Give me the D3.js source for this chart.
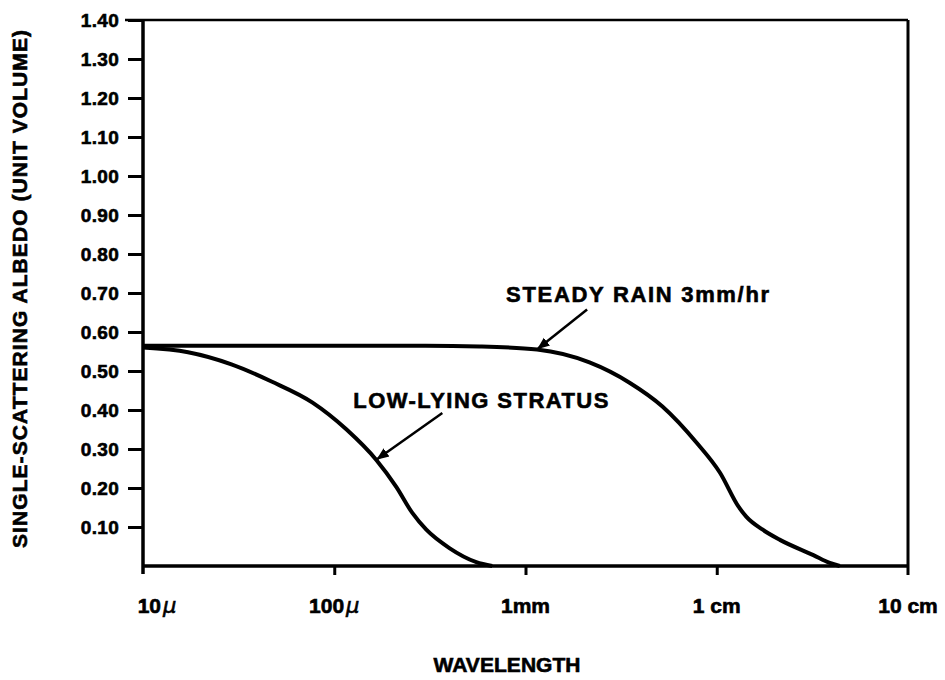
<!DOCTYPE html>
<meta charset="utf-8">
<style>

body {
  margin: 0;
  background: #fff;
}

text {
  font-family: "Liberation Sans", Arial, sans-serif;
  font-weight: bold;
  fill: #000;
  stroke: #000;
  stroke-width: 0.6px;
}

.curve {
  fill: none;
  stroke: #000;
  stroke-width: 4;
  stroke-linejoin: round;
}

</style>
<svg></svg>
<script src="https://cdn.jsdelivr.net/npm/d3@7"></script>
<script>

var width = 945,
    height = 680;

// wavelength in microns, albedo
var rainWave = [10, 100, 300, 575, 1150, 2160, 3500, 5200, 7850, 10400, 13000, 14300, 17400, 21400, 32000, 39000, 44000];
var rainAlbedo = [0.565, 0.565, 0.565, 0.563, 0.555, 0.522, 0.470, 0.409, 0.316, 0.239, 0.152, 0.126, 0.093, 0.067, 0.028, 0.008, 0.0];

var stratusWave = [10, 17.2, 29, 47, 77, 116, 166, 211, 256, 303, 400, 553, 670];
var stratusAlbedo = [0.560, 0.548, 0.517, 0.473, 0.419, 0.350, 0.272, 0.203, 0.136, 0.093, 0.046, 0.010, 0.0];

var xTicks = [10, 100, 1000, 10000, 100000];
var xTickLabels = [["10", "\u03bc"], ["100", "\u03bc"], ["1mm", ""], ["1 cm", ""], ["10 cm", ""]];
var yTicks = [0.1, 0.2, 0.3, 0.4, 0.5, 0.6, 0.7, 0.8, 0.9, 1.0, 1.1, 1.2, 1.3, 1.4];

var notes = [
  {text: "STEADY RAIN 3mm/hr", wave: 1150, albedo: 0.555},
  {text: "LOW-LYING STRATUS", wave: 166, albedo: 0.272}
];

var margin = {left: 143, right: 37, top: 20, bottom: 114};

var x = d3.scaleLog()
    .domain([10, 100000])
    .range([margin.left, width - margin.right]);

var y = d3.scaleLinear()
    .domain([0, 1.4])
    .range([height - margin.bottom, margin.top]);

var svg = d3.select("svg")
    .attr("width", width)
    .attr("height", height);

svg.append("defs").append("marker")
    .attr("id", "head")
    .attr("viewBox", "0 0 10 10")
    .attr("refX", 9)
    .attr("refY", 5)
    .attr("markerWidth", 5)
    .attr("markerHeight", 5)
    .attr("orient", "auto")
  .append("path")
    .attr("d", "M0,1L10,5L0,9Z")
    .attr("fill", "#000");

var x0 = x.range()[0], x1 = x.range()[1],
    y0 = y.range()[0], y1 = y.range()[1];

// frame
svg.append("line").attr("x1", 125).attr("x2", x1).attr("y1", y1).attr("y2", y1)
    .attr("stroke", "#000").attr("stroke-width", 2.5);
svg.append("line").attr("x1", x1).attr("x2", x1).attr("y1", y1).attr("y2", y0 + 9)
    .attr("stroke", "#000").attr("stroke-width", 3);
svg.append("line").attr("x1", x0).attr("x2", x0).attr("y1", y1).attr("y2", y0 + 8)
    .attr("stroke", "#000").attr("stroke-width", 3.5);
svg.append("line").attr("x1", x0).attr("x2", x1).attr("y1", y0).attr("y2", y0)
    .attr("stroke", "#000").attr("stroke-width", 3.5);

// y axis
var yAxis = svg.append("g")
    .attr("transform", "translate(" + x0 + ",0)")
    .call(d3.axisLeft(y)
      .tickValues(yTicks)
      .tickSize(15)
      .tickPadding(9)
      .tickFormat(d3.format(".2f")));

yAxis.select(".domain").remove();
yAxis.selectAll(".tick line").attr("stroke", "#000").attr("stroke-width", 3);
yAxis.selectAll(".tick text")
    .style("font-size", "19px")
    .style("letter-spacing", "0.3px")
    .style("font-family", "'Liberation Sans', Arial, sans-serif")
    .style("font-weight", "bold");

// x axis ticks
var xAxis = svg.append("g")
    .attr("transform", "translate(0," + y0 + ")")
    .call(d3.axisBottom(x)
      .tickValues(xTicks.slice(1, 4))
      .tickSize(9)
      .tickFormat(""));

xAxis.select(".domain").remove();
xAxis.selectAll(".tick line").attr("stroke", "#000").attr("stroke-width", 3);

var xl = svg.append("g").selectAll("text")
    .data(xTicks)
  .enter().append("text")
    .attr("x", function(d, i) { return x(d) + (i == 0 ? 14 : 0); })
    .attr("y", 613)
    .attr("text-anchor", "middle")
    .style("font-size", "21px");

xl.append("tspan").text(function(d, i) { return xTickLabels[i][0]; });
xl.append("tspan")
    .style("font-style", "italic")
    .style("font-family", "'DejaVu Sans', sans-serif")
    .style("font-weight", "normal")
    .attr("dx", 2)
    .text(function(d, i) { return xTickLabels[i][1]; });

// axis titles
svg.append("text")
    .attr("transform", "translate(27," + 289 + ") rotate(-90)")
    .attr("text-anchor", "middle")
    .attr("textLength", 518)
    .style("font-size", "21px")
    .text("SINGLE-SCATTERING ALBEDO (UNIT VOLUME)");

svg.append("text")
    .attr("x", 507)
    .attr("y", 672)
    .attr("text-anchor", "middle")
    .attr("textLength", 147)
    .style("font-size", "21px")
    .text("WAVELENGTH");

// curves
var line = d3.line()
    .x(function(d) { return x(d[0]); })
    .y(function(d) { return y(d[1]); })
    .curve(d3.curveMonotoneX);

svg.append("path")
    .attr("class", "curve")
    .attr("d", line(d3.zip(rainWave, rainAlbedo)));

svg.append("path")
    .attr("class", "curve")
    .attr("d", line(d3.zip(stratusWave, stratusAlbedo)));

// annotations
var tail = [[50, -40, -81, -8, 263], [66, -47, -89, -5, 255]];

notes.forEach(function(n, i) {
  var tx = x(n.wave), ty = y(n.albedo),
      t = tail[i];
  svg.append("line")
      .attr("x1", tx + t[0]).attr("y1", ty + t[1])
      .attr("x2", tx + 1).attr("y2", ty - 1)
      .attr("stroke", "#000")
      .attr("stroke-width", 2.5)
      .attr("marker-end", "url(#head)");
  svg.append("text")
      .attr("x", tx + t[0] + t[2])
      .attr("y", ty + t[1] + t[3])
      .attr("textLength", t[4])
      .style("font-size", "22px")
      .text(n.text);
});

</script>
